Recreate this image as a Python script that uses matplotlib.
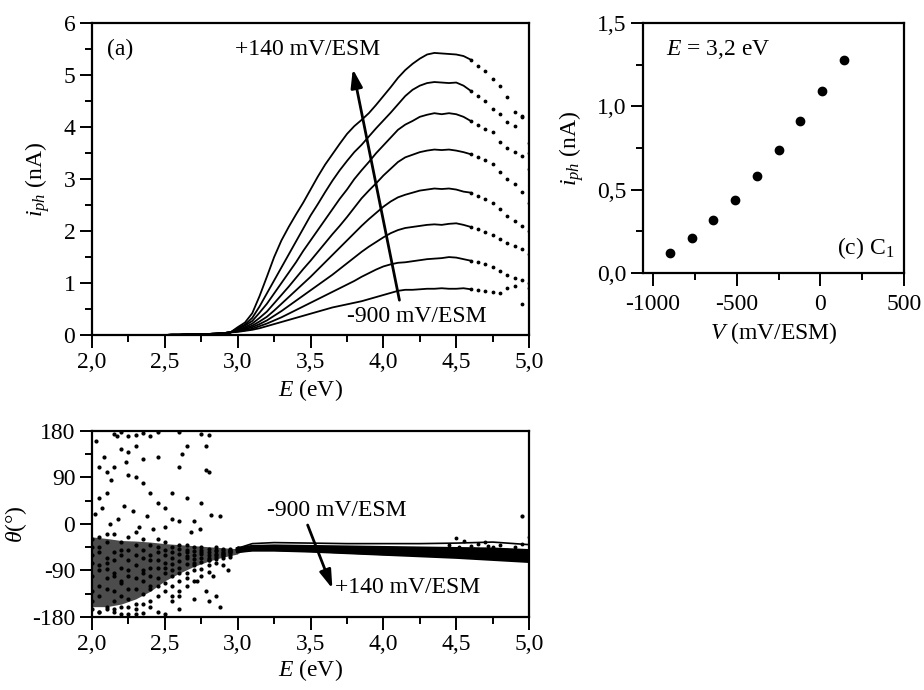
from __future__ import annotations

import matplotlib

matplotlib.use("Agg")
import matplotlib.pyplot as plt
from matplotlib.ticker import FuncFormatter, MultipleLocator

plt.rcParams["font.family"] = ["Liberation Serif", "DejaVu Serif"]
plt.rcParams["mathtext.fontset"] = "custom"
plt.rcParams["mathtext.rm"] = "Liberation Serif"
plt.rcParams["mathtext.it"] = "Liberation Serif:italic"
plt.rcParams["axes.unicode_minus"] = False

# ---- panel (a): photocurrent vs photon energy, 8 potentials ----
E_GRID = [2.0, 2.05, 2.1, 2.15, 2.2, 2.25, 2.3, 2.35, 2.4, 2.45,
          2.5, 2.55, 2.6, 2.65, 2.7, 2.75, 2.8, 2.85, 2.9, 2.95,
          3.0, 3.05, 3.1, 3.15, 3.2, 3.25, 3.3, 3.35, 3.4, 3.45,
          3.5, 3.55, 3.6, 3.65, 3.7, 3.75, 3.8, 3.85, 3.9, 3.95,
          4.0, 4.05, 4.1, 4.15, 4.2, 4.25, 4.3, 4.35, 4.4, 4.45,
          4.5, 4.55, 4.6, 4.65, 4.7, 4.75, 4.8, 4.85, 4.9, 4.95, 5.0]

ONSET = [0.0, 0.0, 0.0, 0.0, 0.0, 0.0, 0.0, 0.0, 0.0, 0.0,
         0.0, 0.005, 0.005, 0.01, 0.01, 0.015, 0.02, 0.025, 0.035, 0.05]

IPH_CURVES = [
    ONSET + [0.06, 0.08, 0.10, 0.13, 0.17, 0.21, 0.25, 0.29, 0.33, 0.37,
             0.41, 0.45, 0.49, 0.53, 0.56, 0.59, 0.62, 0.65, 0.69, 0.73,
             0.77, 0.81, 0.85, 0.87, 0.87, 0.88, 0.89, 0.89, 0.90, 0.89,
             0.89, 0.90, 0.88, 0.86, 0.84, 0.82, 0.80, 0.90, 0.95, 0.60, 0.90],
    ONSET + [0.07, 0.09, 0.12, 0.17, 0.22, 0.28, 0.34, 0.41, 0.48, 0.55,
             0.62, 0.69, 0.76, 0.83, 0.90, 0.97, 1.04, 1.12, 1.19, 1.26,
             1.32, 1.36, 1.39, 1.40, 1.42, 1.44, 1.46, 1.47, 1.48, 1.50,
             1.49, 1.46, 1.43, 1.40, 1.36, 1.30, 1.24, 1.15, 1.10, 1.05, 1.00],
    ONSET + [0.08, 0.11, 0.15, 0.21, 0.28, 0.37, 0.46, 0.56, 0.66, 0.76,
             0.86, 0.96, 1.06, 1.16, 1.27, 1.38, 1.49, 1.60, 1.70, 1.79,
             1.88, 1.96, 2.02, 2.06, 2.08, 2.10, 2.12, 2.13, 2.12, 2.14,
             2.15, 2.12, 2.08, 2.04, 1.98, 1.92, 1.85, 1.78, 1.72, 1.65, 1.55],
    ONSET + [0.09, 0.13, 0.18, 0.26, 0.35, 0.47, 0.60, 0.73, 0.86, 0.99,
             1.12, 1.26, 1.40, 1.54, 1.68, 1.82, 1.96, 2.10, 2.23, 2.35,
             2.47, 2.57, 2.65, 2.70, 2.74, 2.78, 2.80, 2.82, 2.81, 2.82,
             2.80, 2.76, 2.74, 2.68, 2.62, 2.55, 2.42, 2.30, 2.20, 2.10, 2.00],
    ONSET + [0.10, 0.15, 0.22, 0.33, 0.45, 0.61, 0.77, 0.93, 1.10, 1.27,
             1.43, 1.60, 1.77, 1.94, 2.10, 2.27, 2.45, 2.63, 2.78, 2.92,
             3.07, 3.20, 3.33, 3.42, 3.47, 3.52, 3.55, 3.57, 3.56, 3.57,
             3.55, 3.52, 3.48, 3.42, 3.36, 3.30, 3.14, 3.00, 2.90, 2.75, 2.55],
    ONSET + [0.12, 0.18, 0.27, 0.43, 0.60, 0.80, 1.00, 1.20, 1.40, 1.62,
             1.82, 2.02, 2.22, 2.42, 2.62, 2.80, 3.00, 3.17, 3.33, 3.50,
             3.65, 3.80, 3.95, 4.05, 4.12, 4.20, 4.24, 4.27, 4.25, 4.27,
             4.25, 4.20, 4.12, 4.05, 3.97, 3.90, 3.72, 3.60, 3.52, 3.45, 3.20],
    ONSET + [0.13, 0.20, 0.33, 0.55, 0.80, 1.05, 1.30, 1.55, 1.80, 2.05,
             2.30, 2.52, 2.75, 2.97, 3.17, 3.35, 3.52, 3.66, 3.82, 3.98,
             4.13, 4.28, 4.44, 4.60, 4.72, 4.80, 4.85, 4.87, 4.86, 4.85,
             4.86, 4.80, 4.70, 4.60, 4.50, 4.36, 4.25, 4.10, 4.02, 4.20, 3.50],
    ONSET + [0.15, 0.24, 0.42, 0.75, 1.12, 1.50, 1.82, 2.08, 2.32, 2.55,
             2.80, 3.05, 3.28, 3.48, 3.68, 3.87, 4.02, 4.14, 4.27, 4.43,
             4.60, 4.77, 4.95, 5.10, 5.22, 5.32, 5.40, 5.43, 5.42, 5.41,
             5.40, 5.37, 5.30, 5.18, 5.08, 4.92, 4.80, 4.58, 4.30, 4.22, 3.70],
]

# ---- panel (c): photocurrent at E = 3,2 eV vs potential ----
V_POT = [-900, -770, -640, -510, -380, -250, -120, 10, 140]
IPH_32 = [0.12, 0.21, 0.32, 0.44, 0.58, 0.74, 0.91, 1.09, 1.28]

# ---- panel (b): phase angle ----
E_LOW = [2.0, 2.05, 2.1, 2.15, 2.2, 2.25, 2.3, 2.35, 2.4, 2.45, 2.5,
         2.55, 2.6, 2.65, 2.7, 2.75, 2.8, 2.85, 2.9, 2.95, 3.0]
THETA_LOW = [
    [-60, -120, -35, -95, -140, -70, -40, -110, -85, -55, -75, -100, -48, -62, -80, -58, -70, -52, -60, -55, -48],
    [-150, -45, -88, -130, -60, -100, -155, -50, -120, -70, -95, -45, -85, -66, -52, -74, -48, -63, -56, -50, -47],
    [-30, -90, -160, -55, -115, -25, -80, -135, -40, -105, -60, -120, -72, -40, -90, -55, -65, -45, -58, -53, -50],
    [-100, -170, -65, -20, -85, -145, -105, -65, -150, -30, -130, -78, -58, -95, -68, -50, -80, -60, -50, -57, -46],
    [-75, -55, -125, -100, -35, -125, -60, -90, -100, -140, -50, -65, -110, -55, -75, -88, -55, -68, -62, -48, -49],
    [-130, -80, -20, -165, -110, -50, -175, -30, -70, -85, -115, -90, -40, -105, -60, -65, -92, -50, -54, -60, -51],
    [-45, -140, -105, -70, -175, -90, -125, -155, -60, -120, -35, -140, -95, -78, -110, -45, -60, -75, -66, -52, -48],
    [-165, -25, -75, -150, -50, -160, -15, -95, -125, -45, -85, -55, -130, -50, -45, -100, -70, -58, -48, -63, -52],
]

# dense cloud below 3 eV (envelope of the scatter)
CLOUD_E = [2.0, 2.1, 2.2, 2.3, 2.4, 2.5, 2.6, 2.7, 2.8, 2.9, 3.0]
CLOUD_LO = [-160, -160, -155, -145, -130, -110, -95, -82, -72, -64, -58]
CLOUD_HI = [-25, -28, -32, -33, -35, -38, -40, -42, -44, -46, -48]

OUTLIER_E = [2.15, 2.2, 2.25, 2.3, 2.35, 2.4, 2.45, 2.6, 2.75, 2.8,
             2.05, 2.1, 2.2, 2.25, 2.3, 2.35, 2.45, 2.65, 2.62, 2.78,
             2.8, 2.78, 2.6, 2.55, 2.65, 2.75, 2.82, 2.88, 2.7, 2.6,
             2.5, 2.45, 2.4, 2.35, 2.3, 2.25, 2.15, 2.1, 2.05, 2.02,
             2.07, 2.12, 2.18, 2.22, 2.28, 2.32, 2.38, 2.42, 2.5, 2.55,
             2.68, 2.74, 2.1, 2.15, 2.2, 2.25, 2.3, 2.35, 2.4, 2.45,
             2.5, 2.55, 2.6, 2.7, 2.8, 2.85, 2.88, 2.05, 2.6, 2.65,
             2.72, 2.78, 2.83, 2.9, 2.93, 2.03, 2.08, 2.13, 2.17, 2.23,
             4.95]
OUTLIER_T = [175, 178, 170, 172, 176, 170, 178, 178, 175, 172,
             110, 100, 145, 140, 150, 125, 130, 150, 135, 105,
             100, 150, 110, 60, 50, 40, 18, 15, 5, 5,
             30, 40, 60, 80, 90, 95, 110, 60, 50, 20,
             30, 0, 10, 35, 25, -5, 15, -10, -5, 10,
             -15, -10, -165, -170, -160, -175, -165, -172, -160, -170,
             -175, -150, -140, -145, -150, -140, -160, -170, -165, -120,
             -110, -130, -100, -80, -90, 160, 130, 85, 170, 120,
             15]

E_BAND = [3.0, 3.1, 3.25, 3.5, 3.75, 4.0, 4.25, 4.5, 4.75, 5.0]
THETA_BAND = [
    [-47, -38, -36, -37, -38, -38, -38, -37, -35, -40],
    [-48, -44, -43, -44, -45, -46, -47, -48, -49, -52],
    [-49, -45, -45, -46, -47, -49, -50, -52, -54, -57],
    [-50, -46, -46, -47, -49, -51, -53, -55, -57, -60],
    [-51, -47, -47, -49, -51, -53, -55, -57, -60, -63],
    [-52, -48, -48, -50, -52, -55, -57, -60, -63, -66],
    [-52, -49, -49, -51, -54, -57, -59, -62, -65, -69],
    [-53, -50, -50, -52, -55, -58, -61, -64, -68, -72],
]
TAIL_E = [4.45, 4.5, 4.55, 4.6, 4.65, 4.7, 4.75, 4.8, 4.85, 4.9,
          4.95, 5.0, 4.52, 4.62, 4.72, 4.82, 4.92, 4.98]
TAIL_T = [-40, -28, -33, -42, -38, -35, -45, -40, -50, -45,
          -38, -25, -45, -48, -42, -55, -52, -60]

FS = 17
ARROW = dict(arrowstyle="-|>,head_length=1.1,head_width=0.35",
             color="black", lw=2.0, shrinkA=0, shrinkB=0)


def comma_fmt(decimals: int):
    return FuncFormatter(lambda v, p: f"{v:.{decimals}f}".replace(".", ","))


def style_axes(ax) -> None:
    for s in ax.spines.values():
        s.set_linewidth(1.6)
    ax.tick_params(which="both", direction="out", top=False, right=False,
                   labelsize=FS, width=1.4, pad=3)
    ax.tick_params(which="major", length=9)
    ax.tick_params(which="minor", length=5)


def plot_iph(ax) -> None:
    solid = [i for i, e in enumerate(E_GRID) if e <= 4.6]
    tail = [i for i, e in enumerate(E_GRID) if e >= 4.6]
    for curve in IPH_CURVES:
        ax.plot([E_GRID[i] for i in solid], [curve[i] for i in solid], color="black", lw=1.3)
        ax.plot([E_GRID[i] for i in tail], [curve[i] for i in tail], ".", color="black", ms=3.5)

    ax.set_xlim(2.0, 5.0)
    ax.set_ylim(0, 6)
    ax.xaxis.set_major_locator(MultipleLocator(0.5))
    ax.xaxis.set_minor_locator(MultipleLocator(0.25))
    ax.yaxis.set_major_locator(MultipleLocator(1))
    ax.yaxis.set_minor_locator(MultipleLocator(0.5))
    ax.xaxis.set_major_formatter(comma_fmt(1))
    style_axes(ax)
    ax.set_xlabel("$E$ (eV)", fontsize=FS, labelpad=3)
    ax.set_ylabel("$i_{ph}$ (nA)", fontsize=FS, labelpad=8)

    ax.text(2.1, 5.5, "(a)", fontsize=FS, va="center")
    ax.text(2.98, 5.5, "+140 mV/ESM", fontsize=FS, va="center")
    ax.text(3.75, 0.35, "-900 mV/ESM", fontsize=FS, va="center")
    ax.annotate("", xy=(3.79, 5.12), xytext=(4.11, 0.67), arrowprops=ARROW)


def plot_theta(ax) -> None:
    ax.fill_between(CLOUD_E, CLOUD_LO, CLOUD_HI, color="black", alpha=0.7, lw=0)
    for th in THETA_LOW:
        ax.plot(E_LOW, th, "o", color="black", ms=2.0)
    ax.plot(OUTLIER_E, OUTLIER_T, "o", color="black", ms=2.0)
    for i, th in enumerate(THETA_BAND):
        ax.plot(E_BAND, th, color="black", lw=1.2 if i == 0 else 2.6)
    ax.plot(TAIL_E, TAIL_T, "o", color="black", ms=1.8)

    ax.set_xlim(2.0, 5.0)
    ax.set_ylim(-180, 180)
    ax.xaxis.set_major_locator(MultipleLocator(0.5))
    ax.xaxis.set_minor_locator(MultipleLocator(0.25))
    ax.yaxis.set_major_locator(MultipleLocator(90))
    ax.yaxis.set_minor_locator(MultipleLocator(45))
    ax.xaxis.set_major_formatter(comma_fmt(1))
    style_axes(ax)
    ax.set_xlabel("$E$ (eV)", fontsize=FS, labelpad=2)
    ax.set_ylabel(r"$\theta$(°)", fontsize=FS, labelpad=2)

    ax.text(3.2, 27, "-900 mV/ESM", fontsize=FS, va="center")
    ax.text(3.67, -123, "+140 mV/ESM", fontsize=FS, va="center")
    ax.annotate("", xy=(3.65, -125), xytext=(3.48, -2), arrowprops=ARROW)


def plot_c(ax) -> None:
    ax.plot(V_POT, IPH_32, "o", color="black", ms=6)
    ax.set_xlim(-1060, 500)
    ax.set_ylim(0, 1.5)
    ax.xaxis.set_major_locator(MultipleLocator(500))
    ax.xaxis.set_minor_locator(MultipleLocator(250))
    ax.yaxis.set_major_locator(MultipleLocator(0.5))
    ax.yaxis.set_minor_locator(MultipleLocator(0.25))
    ax.yaxis.set_major_formatter(comma_fmt(1))
    ax.xaxis.set_major_formatter(FuncFormatter(lambda v, p: f"{v:.0f}"))
    style_axes(ax)
    ax.tick_params(axis="x", which="major", pad=6)
    ax.set_xlabel("$V$ (mV/ESM)", fontsize=FS, labelpad=4)
    ax.set_ylabel("$i_{ph}$ (nA)", fontsize=FS, labelpad=8)
    ax.text(-922, 1.34, "$E$ = 3,2 eV", fontsize=FS, va="center")
    ax.text(440, 0.15, "(c) C$_1$", fontsize=FS, va="center", ha="right")


def main() -> None:
    fig = plt.figure(figsize=(9.24, 6.9), dpi=100)
    ax_a = fig.add_axes([0.0996, 0.5145, 0.473, 0.4517])
    ax_b = fig.add_axes([0.0996, 0.1058, 0.473, 0.2696])
    ax_c = fig.add_axes([0.6959, 0.6043, 0.2825, 0.3623])

    plot_iph(ax_a)
    plot_theta(ax_b)
    plot_c(ax_c)

    fig.savefig("out.png", dpi=100)
    plt.close(fig)


if __name__ == "__main__":
    main()
